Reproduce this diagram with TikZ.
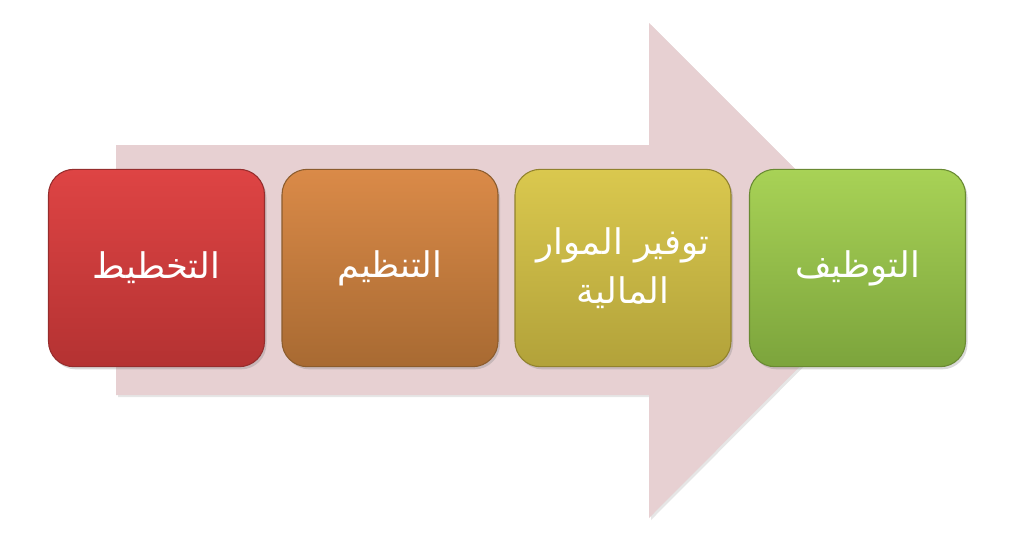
\documentclass[tikz,border=0pt]{standalone}
\usepackage{fontspec}
\TeXXeTstate=1
\newfontfamily\arabicfont[Script=Arabic]{DejaVu Sans}
\usetikzlibrary{shadows}
\definecolor{arrowfill}{RGB}{231,208,210}
\definecolor{redtop}{RGB}{222,68,68}
\definecolor{redbot}{RGB}{180,50,50}
\definecolor{redline}{RGB}{150,45,45}
\definecolor{ortop}{RGB}{218,138,72}
\definecolor{orbot}{RGB}{168,106,50}
\definecolor{orline}{RGB}{140,92,45}
\definecolor{yetop}{RGB}{218,200,78}
\definecolor{yebot}{RGB}{178,162,58}
\definecolor{yeline}{RGB}{145,130,45}
\definecolor{grtop}{RGB}{168,210,86}
\definecolor{grbot}{RGB}{124,164,60}
\definecolor{grline}{RGB}{105,138,50}
\tikzset{
  stagebox/.style={rounded corners=19pt, minimum width=162pt, minimum height=148pt,
    inner sep=0pt, line width=0.8pt, text=white, align=center,
    font=\arabicfont\fontsize{26.5}{37}\selectfont,
    drop shadow={opacity=0.3, shadow xshift=1.5pt, shadow yshift=-2pt}},
}
\begin{document}
\begin{tikzpicture}[x=0.75pt,y=-0.75pt]
\useasboundingbox (0,0) rectangle (1024,544);
% big arrow
\fill[arrowfill, drop shadow={opacity=0.2, shadow xshift=1.5pt, shadow yshift=-1.5pt}]
  (116,145) -- (649,145) -- (649,23) -- (896,270) -- (649,518) -- (649,395) -- (116,395) -- cycle;
% stages
\node[stagebox, draw=redline, top color=redtop, bottom color=redbot] (plan) at (156.5,268)
  {\beginR التخطيط\endR};
\node[stagebox, draw=orline, top color=ortop, bottom color=orbot] (org) at (390,268)
  {\beginR التنظيم\endR};
\node[stagebox, draw=yeline, top color=yetop, bottom color=yebot] (fin) at (623,268)
  {\beginR توفير الموار\endR\\\beginR المالية\endR};
\node[stagebox, draw=grline, top color=grtop, bottom color=grbot] (staff) at (857.5,268)
  {\beginR التوظيف\endR};
\end{tikzpicture}
\end{document}
